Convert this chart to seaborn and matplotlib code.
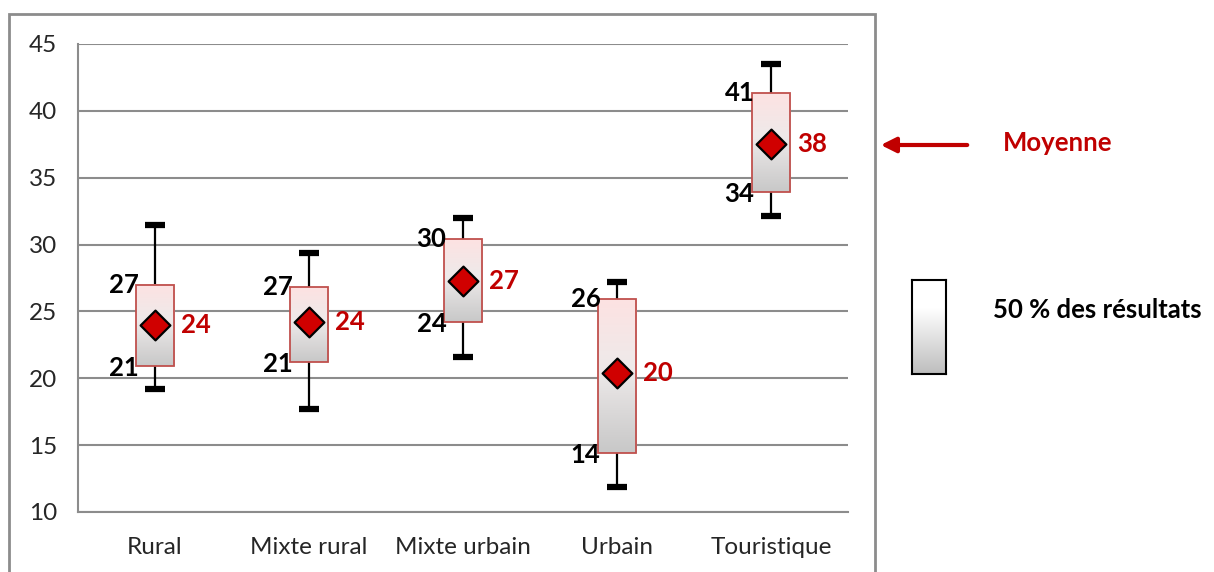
import numpy as np
import pandas as pd
import matplotlib
matplotlib.use("Agg")
import matplotlib.pyplot as plt
from matplotlib.patches import Rectangle
import seaborn as sns

# ---- data ----
categories = ["Rural", "Mixte rural", "Mixte urbain", "Urbain", "Touristique"]
whisker_low = [19.2, 17.7, 21.6, 11.9, 32.1]
q1 = [20.9, 21.2, 24.2, 14.4, 33.9]
q3 = [27.0, 26.8, 30.4, 25.9, 41.3]
whisker_high = [31.5, 29.4, 32.0, 27.2, 43.5]
means = [24.0, 24.2, 27.3, 20.4, 37.5]
q1_labels = ["21", "21", "24", "14", "34"]
q3_labels = ["27", "27", "30", "26", "41"]
mean_labels = ["24", "24", "27", "20", "38"]
yticks = [10, 15, 20, 25, 30, 35, 40, 45]

sns.set_style("white")
plt.rcParams["font.family"] = ["Lato", "DejaVu Sans"]

RED = "#c00000"
GRID = "#8c8c8c"
FS = 17.5
FSB = 18.5

fig = plt.figure(figsize=(12.14, 5.72), dpi=100)
ax = fig.add_axes([78 / 1214, 1 - 512 / 572, (848 - 78) / 1214, (512 - 44) / 572])

pos = np.arange(len(categories))
bw = 0.25

stats = []
for i, c in enumerate(categories):
    stats.append(dict(label=c, med=means[i], q1=q1[i], q3=q3[i],
                      whislo=whisker_low[i], whishi=whisker_high[i], fliers=[]))

ax.bxp(stats, positions=pos, widths=bw, showfliers=False, patch_artist=True,
       boxprops=dict(facecolor="none", edgecolor="#c0504d", linewidth=1.3, zorder=4),
       whiskerprops=dict(color="black", linewidth=1.6, zorder=2),
       capprops=dict(color="black", linewidth=4.5, solid_capstyle="butt", zorder=2),
       medianprops=dict(linewidth=0), capwidths=0.125)

# gradient fill of boxes (pink top -> gray bottom)
top_c = np.array(matplotlib.colors.to_rgb("#fde2e2"))
mid_c = np.array(matplotlib.colors.to_rgb("#eeeaea"))
bot_c = np.array(matplotlib.colors.to_rgb("#c8c8c8"))
t = np.linspace(0, 1, 100)[:, None]
grad = np.where(t < 0.45, top_c + (mid_c - top_c) * (t / 0.45),
                mid_c + (bot_c - mid_c) * ((t - 0.45) / 0.55))
grad = grad[:, None, :]
for i in range(len(categories)):
    ax.imshow(grad, extent=[pos[i] - bw / 2, pos[i] + bw / 2, q1[i], q3[i]],
              origin="upper", aspect="auto", zorder=3, interpolation="bilinear")

df = pd.DataFrame({"x": pos, "mean": means})
sns.scatterplot(data=df, x="x", y="mean", marker="D", s=230, color="#d00000",
                edgecolor="black", linewidth=1.6, zorder=5, ax=ax, legend=False)

for i in range(len(categories)):
    ax.annotate(q3_labels[i], xy=(pos[i] - bw / 2, q3[i]), xytext=(2, 0),
                textcoords="offset points", ha="right", va="center",
                fontsize=FSB, fontweight="bold", color="black", zorder=6)
    ax.annotate(q1_labels[i], xy=(pos[i] - bw / 2, q1[i]), xytext=(2, -1),
                textcoords="offset points", ha="right", va="center",
                fontsize=FSB, fontweight="bold", color="black", zorder=6)
    ax.annotate(mean_labels[i], xy=(pos[i] + bw / 2, means[i]), xytext=(5, 0),
                textcoords="offset points", ha="left", va="center",
                fontsize=FSB, fontweight="bold", color=RED, zorder=6)

ax.set_xlim(-0.5, len(categories) - 0.5)
ax.set_ylim(10, 45)
ax.set_yticks(yticks)
ax.set_yticklabels([str(v) for v in yticks], fontsize=FS)
ax.set_xticks(pos)
ax.set_xticklabels(categories, fontsize=FS)
ax.set_xticks(np.arange(-0.5, len(categories)), minor=True)
ax.tick_params(axis="x", which="major", length=0, pad=18)
ax.tick_params(axis="x", which="minor", length=6, width=1.5, color=GRID, direction="out")
ax.tick_params(axis="y", length=6, width=1.5, color=GRID, direction="out", pad=9)
ax.set_xlabel("")
ax.set_ylabel("")
ax.yaxis.grid(True, color=GRID, linewidth=1.5)
ax.set_axisbelow(True)
for s in ["top", "right"]:
    ax.spines[s].set_visible(False)
for s in ["left", "bottom"]:
    ax.spines[s].set_color(GRID)
    ax.spines[s].set_linewidth(1.5)

# outer chart frame
fig.patches.append(Rectangle((9 / 1214, -0.05), (875 - 9) / 1214, 1 - 14 / 572 + 0.05,
                             transform=fig.transFigure, fill=False,
                             edgecolor=GRID, linewidth=2))

# mean annotation
fig.patches.append(matplotlib.patches.FancyArrowPatch(
    (970 / 1214, 1 - 145 / 572), (878 / 1214, 1 - 145 / 572),
    transform=fig.transFigure, arrowstyle="-|>,head_length=9,head_width=4.5",
    color=RED, linewidth=3, mutation_scale=1))
fig.text(1003 / 1214, 1 - 143 / 572, "Moyenne", color=RED, fontsize=FSB,
         fontweight="bold", ha="left", va="center")

# legend box
lax = fig.add_axes([912 / 1214, 1 - 374 / 572, 34 / 1214, 94 / 572])
lt = np.linspace(0, 1, 100)[:, None]
white = np.array([1.0, 1.0, 1.0])
gray = np.array(matplotlib.colors.to_rgb("#bdbdbd"))
lgrad = np.where(lt < 0.3, white, white + (gray - white) * ((lt - 0.3) / 0.7))
lax.imshow(lgrad[:, None, :], aspect="auto", extent=[0, 1, 0, 1], origin="upper")
lax.set_xticks([])
lax.set_yticks([])
for s in lax.spines.values():
    s.set_color("black")
    s.set_linewidth(1.5)
    s.set_visible(True)
fig.text(993 / 1214, 1 - 310 / 572, "50 % des résultats", color="black",
         fontsize=FSB, fontweight="bold", ha="left", va="center")

fig.savefig("out.png", dpi=100)
